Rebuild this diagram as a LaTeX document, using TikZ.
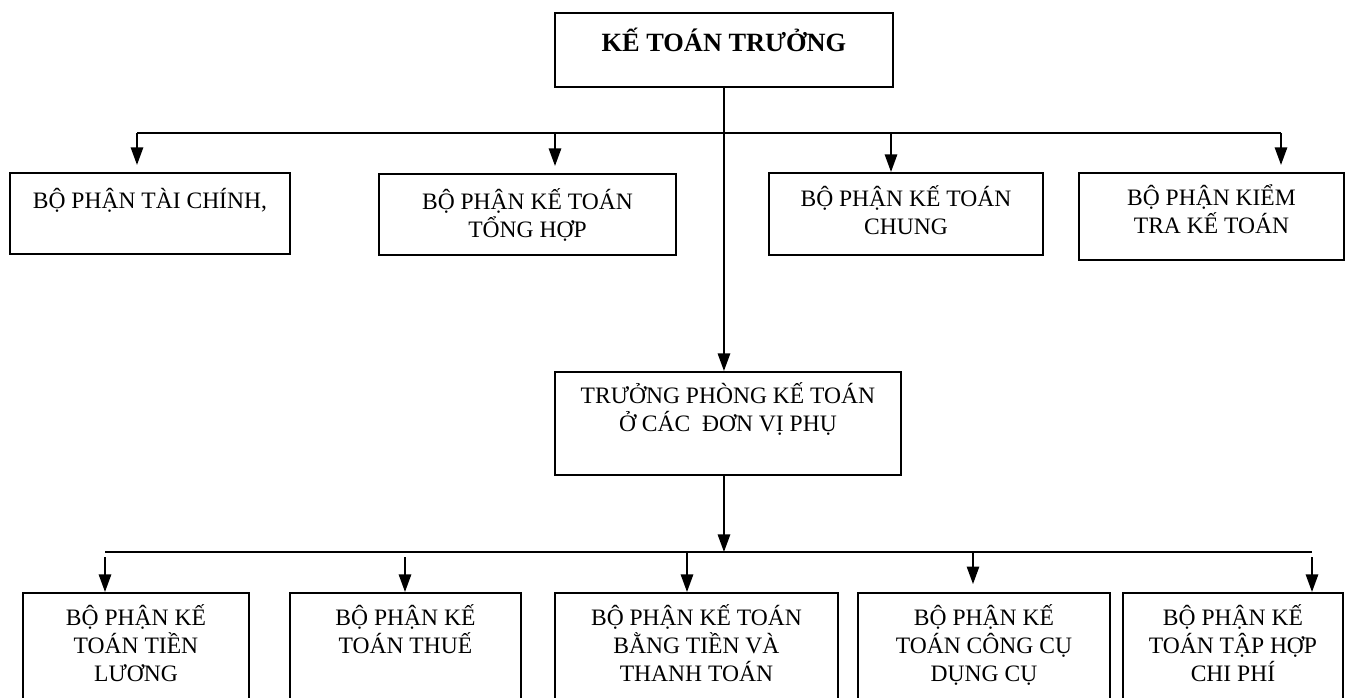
\documentclass[tikz,border=0pt]{standalone}
\usepackage{fontspec}
\setmainfont{Liberation Serif}
\usetikzlibrary{arrows.meta}
\newlength{\pxu}
\setlength{\pxu}{0.02cm}
\newcommand{\boxlbl}[4]{\parbox[c][#2\pxu][t]{#1\pxu}{\centering\lineskiplimit=-20pt\rule{0pt}{#3\pxu}#4}}

\begin{document}
\begin{tikzpicture}[
        x=0.02cm, y=-0.02cm,
        box/.style={draw, line width=1.1pt, inner sep=0pt, anchor=north west, font=\fontsize{13.4}{15.9}\selectfont},
        conn/.style={line width=1.1pt},
        arr/.style={-{Triangle[length=10pt,width=7pt]}, line width=1.1pt}
    ]
    \clip (0,0) rectangle (1346,697);

    % Nodes
    \node[box, font=\bfseries\fontsize{15}{18}\selectfont] (ktt) at (554,12) {\boxlbl{338}{74}{39}{KẾ TOÁN TRƯỞNG}};

    \node[box] (taichinh) at (9,172) {\boxlbl{280}{81}{36}{BỘ PHẬN TÀI CHÍNH,}};
    \node[box] (tonghop) at (378,173) {\boxlbl{297}{81}{36}{BỘ PHẬN KẾ TOÁN\\TỔNG HỢP}};
    \node[box] (chung) at (768,172) {\boxlbl{274}{82}{34}{BỘ PHẬN KẾ TOÁN\\CHUNG}};
    \node[box] (kiemtra) at (1078,172) {\boxlbl{265}{87}{33}{BỘ PHẬN KIỂM\\TRA KẾ TOÁN}};

    \node[box] (tpkt) at (554,371) {\boxlbl{346}{103}{32}{TRƯỞNG PHÒNG KẾ TOÁN\\Ở CÁC\ \ ĐƠN VỊ PHỤ}};

    \node[box] (luong) at (22,592) {\boxlbl{226}{130}{33}{BỘ PHẬN KẾ\\TOÁN TIỀN\\LƯƠNG}};
    \node[box] (thue) at (289,592) {\boxlbl{231}{130}{33}{BỘ PHẬN KẾ\\TOÁN THUẾ}};
    \node[box] (bangtien) at (554,592) {\boxlbl{283}{130}{33}{BỘ PHẬN KẾ TOÁN\\BẰNG TIỀN VÀ\\THANH TOÁN}};
    \node[box] (congcu) at (857,592) {\boxlbl{252}{130}{33}{BỘ PHẬN KẾ\\TOÁN CÔNG CỤ\\DỤNG CỤ}};
    \node[box] (taphop) at (1122,592) {\boxlbl{220}{130}{33}{BỘ PHẬN KẾ\\TOÁN TẬP HỢP\\CHI PHÍ}};

    % Bus points
    \coordinate (a1) at (137,133);
    \coordinate (a2) at (555,133);
    \coordinate (a3) at (891,133);
    \coordinate (a4) at (1281,133);
    \coordinate (b1) at (105,552);
    \coordinate (b2) at (405,552);
    \coordinate (b3) at (687,552);
    \coordinate (b4) at (973,552);
    \coordinate (b5) at (1312,552);

    % Arrows, upper level
    \draw[arr] (ktt.south) -- (ktt.south |- tpkt.north);
    \draw[conn] (a1) -- (a4);
    \draw[arr, shorten >=4pt] (a1) -- (a1 |- taichinh.north);
    \draw[arr, shorten >=4pt] (a2) -- (a2 |- tonghop.north);
    \draw[arr] (a3) -- (a3 |- chung.north);
    \draw[arr, shorten >=4pt] (a4) -- (a4 |- kiemtra.north);

    % Arrows, lower level
    \draw[arr] (tpkt.south -| ktt.south) -- (ktt.south |- b1);
    \draw[conn] (b1) -- (b5);
    \draw[arr, shorten <=3pt] (b1) -- (b1 |- luong.north);
    \draw[arr, shorten <=3pt] (b2) -- (b2 |- thue.north);
    \draw[arr] (b3) -- (b3 |- bangtien.north);
    \draw[arr, shorten >=4.5pt] (b4) -- (b4 |- congcu.north);
    \draw[arr, shorten <=3pt] (b5) -- (b5 |- taphop.north);

\end{tikzpicture}
\end{document}
